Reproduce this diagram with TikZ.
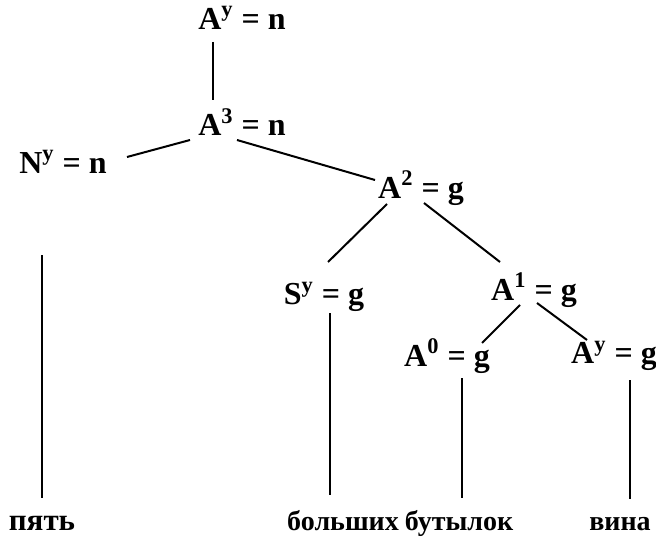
\documentclass[tikz,border=0pt]{standalone}
\usepackage{fontspec}
\setmainfont{Liberation Serif}
\usetikzlibrary{calc}

\begin{document}
\begin{tikzpicture}[x=0.5pt, y=-0.5pt,
  every node/.style={inner sep=0pt, font=\bfseries\fontsize{16}{19}\selectfont},
  word/.style={anchor=base, font=\bfseries\fontsize{14}{17}\selectfont},
  branch/.style={line width=1pt},
  stem/.style={line width=1.4pt}]
\useasboundingbox (0,0) rectangle (656,540);

% Upper nodes
\node (top) at (242,18) {A\textsuperscript{y} = n};
\node (a3) at (242,122) {A\textsuperscript{3} = n};
\node (ny) at (63,162) {N\textsuperscript{y} = n};
\node (a2) at (421,188) {A\textsuperscript{2} = g};
\node (sy) at (324,297) {S\textsuperscript{y} = g};
\node (a1) at (534,290) {A\textsuperscript{1} = g};
\node (a0) at (447,356) {A\textsuperscript{0} = g};
\node (ay) at (614,356) {A\textsuperscript{y} = g};

% Words
\node[word, font=\bfseries\fontsize{15.5}{18}\selectfont] (pyat) at (42,530) {пять};
\node[word] (bolsh) at (343,530) {больших};
\node[word] (butyl) at (459,530) {бутылок};
\node[word] (vina) at (620,530) {вина};

% Branches
\draw[stem] ($(top)+(-29,24)$) -- ($(a3)+(-29,-22)$);
\draw[branch] ($(a3)+(-52,18)$) -- ($(ny)+(64,-5)$);
\draw[branch] ($(a3)+(-5,18)$) -- ($(a2)+(-46,-8)$);
\draw[branch] ($(a2)+(-34,16)$) -- ($(sy)+(4,-35)$);
\draw[branch] ($(a2)+(3,15)$) -- ($(a1)+(-34,-28)$);
\draw[branch] ($(a1)+(-14,15)$) -- ($(a0)+(35,-13)$);
\draw[branch] ($(a1)+(3,13)$) -- ($(ay)+(-27,-16)$);

% Stems down to the words
\draw[stem] ($(ny)+(-21,93)$) -- ($(pyat)+(0,-25)$);
\draw[stem] ($(sy)+(6,16)$) -- ($(bolsh)+(-13,-25)$);
\draw[stem] ($(a0)+(15,22)$) -- ($(butyl)+(3,-25)$);
\draw[stem] ($(ay)+(16,24)$) -- ($(vina)+(10,-25)$);
\end{tikzpicture}
\end{document}
